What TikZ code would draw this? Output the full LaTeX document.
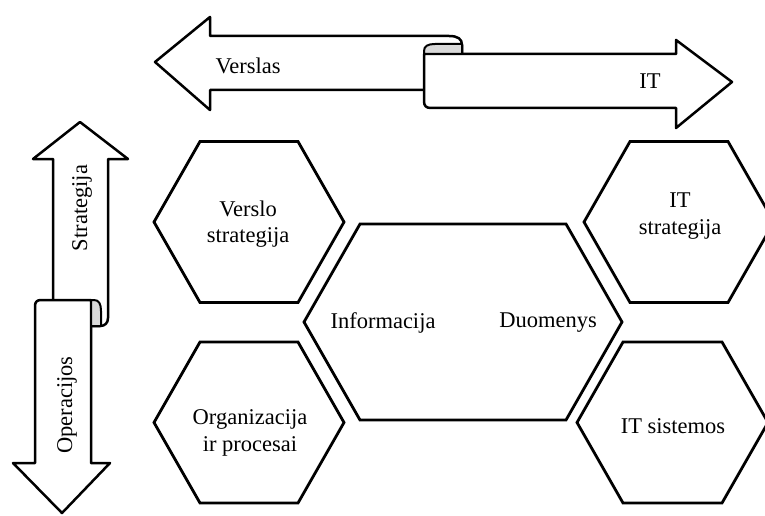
\documentclass[tikz,border=0pt]{standalone}
\usepackage{fontspec}
\setmainfont{Liberation Serif}

\begin{document}
\begin{tikzpicture}[%
    x=1pt, y=-1pt,
    ribbon/.style={draw, line width=2.5pt, fill=white, line join=round},
    ribbonback/.style={draw, line width=2pt, fill=gray!30, line join=round},
    hexa/.style={draw, line width=2.8pt},
    txt/.style={font=\fontsize{22.5}{26.5}\selectfont, align=center, inner sep=0pt},
]

\clip (0,0) rectangle (765,516);

% Verslas / IT ribbon
\draw[ribbon] (155,62) -- (210,17) -- (210,36) -- (449,36)
    .. controls (458,36) and (462,39) .. (462,45) -- (462,90)
    -- (210,90) -- (210,110) -- cycle;
\draw[ribbon] (424,54) -- (676,54) -- (676,40) -- (732,82) -- (676,128)
    -- (676,108) -- (431,108) .. controls (426,108) and (424,106) .. (424,101) -- cycle;
\draw[ribbonback] (424,54) -- (424,51) .. controls (424,46) and (428,44) .. (435,44)
    -- (462,44) -- (462,54) -- cycle;

% Strategija / Operacijos ribbon
\draw[ribbon] (80,122) -- (128,159) -- (108,159) -- (108,318)
    .. controls (108,323) and (105,326) .. (100,326) -- (53,326)
    -- (53,159) -- (33,159) -- cycle;
\draw[ribbon] (91,300) -- (91,463) -- (110,463) -- (62,513) -- (13,463)
    -- (35,463) -- (35,306) .. controls (35,302) and (37,300) .. (41,300) -- cycle;
\draw[ribbonback] (91,300) -- (94,300) .. controls (99,300) and (101,304) .. (101,311)
    -- (101,326) -- (91,326) -- cycle;

\node[txt] (versl) at (248,66) {Verslas};
\node[txt] (it) at (650,81) {IT};
\node[txt, rotate=90] (strat) at (82,208) {Strategija};
\node[txt, rotate=90] (oper) at (67,405) {Operacijos};

% hexagons: centre x / centre y / half width / half height / half top
\foreach \cx/\cy/\w/\h/\t in {249/222/95/80.5/49, 679/222/95/80.5/49,
                                249/422.5/95/80.5/49, 672.5/422.5/95.5/80.5/49.5,
                                463/322/159/98/103}
    \draw[hexa] ({\cx-\w},\cy) -- ({\cx-\t},{\cy-\h}) -- ({\cx+\t},{\cy-\h})
        -- ({\cx+\w},\cy) -- ({\cx+\t},{\cy+\h}) -- ({\cx-\t},{\cy+\h}) -- cycle;

\node[txt] (verslostrat) at (248,224) {Verslo\\strategija};
\node[txt] (itstrat) at (680,216) {IT\\strategija};
\node[txt] (org) at (250,433) {Organizacija\\ir procesai};
\node[txt] (info) at (383,323) {Informacija};
\node[txt] (duom) at (548,323) {Duomenys};
\node[txt] (itsys) at (673,426) {IT sistemos};
\end{tikzpicture}
\end{document}
